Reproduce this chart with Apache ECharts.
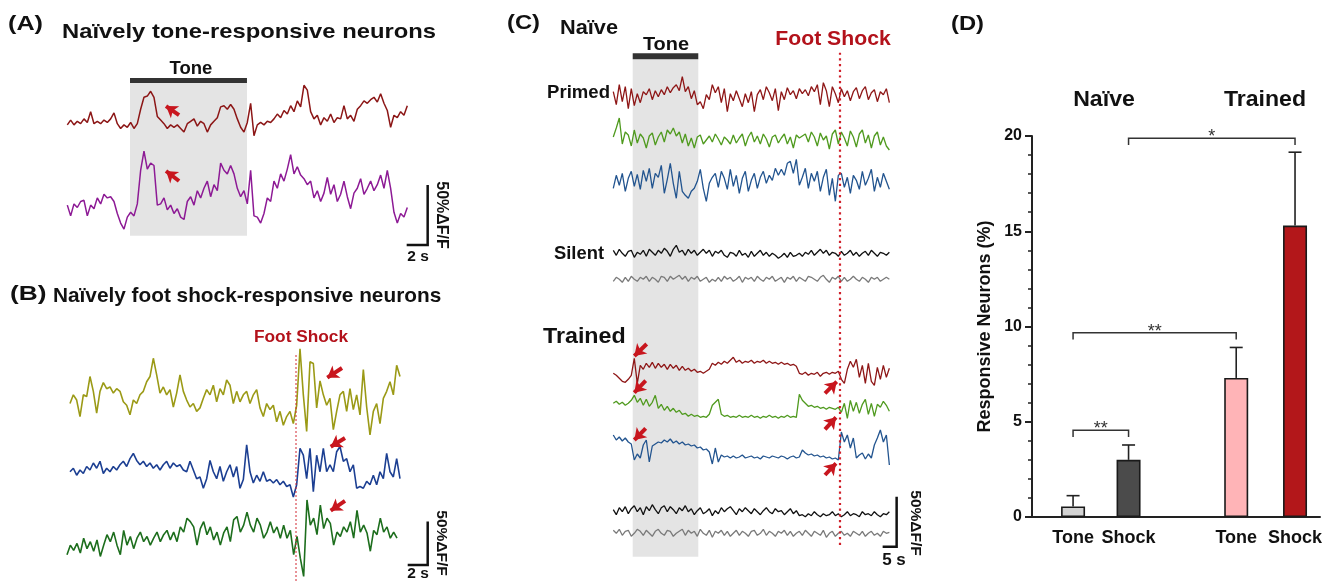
<!DOCTYPE html>
<html>
<head>
<meta charset="utf-8">
<script src="https://cdn.jsdelivr.net/npm/echarts@6/dist/echarts.min.js"></script>
<style>
  html, body { margin: 0; padding: 0; background: #fff; }
  #chart { width: 1334px; height: 581px; }
</style>
</head>
<body>
<div id="chart"></div>
<script>
// ---------- Panel A: naïvely tone-responsive neurons (%ΔF/F, one sample per ~0.32 s) ----------
const aRedTrace = [-1,3,-1,2,0,4,1,10,0,2,0,3,1,4,9,0,-4,-1,-3,1,-4,0,12,22,23,27,22,6,3,0,-4,-1,-3,-1,-4,-7,0,2,4,-2,2,0,-7,-1,2,5,14,15,12,16,12,4,-3,-7,1,17,-10,-1,1,-1,2,1,4,8,5,11,8,15,10,19,14,32,28,10,4,7,-1,5,2,8,1,5,4,15,4,7,2,12,15,19,17,20,22,18,25,17,11,-3,7,5,10,7,15];
const aPurpleTrace = [3,-6,4,1,6,7,-6,3,0,9,4,12,9,10,6,-4,-12,-17,-7,-3,-6,4,32,48,33,38,36,3,4,9,-1,3,-4,0,-7,-9,6,10,3,15,9,17,23,10,20,15,38,32,29,36,29,17,10,15,4,32,-6,-7,-12,-4,9,6,23,17,29,23,33,45,29,35,28,25,20,23,9,15,6,13,26,12,20,6,12,23,10,0,13,17,25,12,17,23,15,20,28,17,32,17,-3,-12,-4,-7,1];
const aTone = [6.0, 17.14];          // tone on / off (s)

// ---------- Panel B: naïvely foot shock-responsive neurons ----------
const bOliveTrace = [-6,4,-2,-21,4,2,25,8,-17,8,18,11,13,6,11,8,-4,-8,-19,-2,-6,4,8,19,25,46,27,6,13,4,10,-10,6,27,8,-2,-10,-6,-15,-11,0,10,4,15,-4,11,4,21,15,-6,8,-4,4,8,-6,4,10,-11,-21,-6,-13,-8,-27,-15,-31,-21,-15,-29,-8,57,4,-38,42,40,-11,20,4,-8,0,-36,-15,4,8,-15,11,-13,4,-19,33,-10,-42,-15,-6,-29,0,8,19,4,38,25];
const bBlueTrace = [-2,2,-6,0,-4,4,0,8,2,10,-4,2,-2,4,0,6,10,4,13,19,11,6,10,4,8,2,6,0,6,10,2,8,4,6,0,-2,10,0,-10,-8,-21,-10,11,-2,-10,4,-13,-2,6,-8,4,-21,-11,29,-2,-15,-6,-13,-2,-13,-11,-15,-11,-17,-13,-19,-17,-31,-17,25,17,-10,25,-25,17,-2,25,-2,6,-2,21,27,10,13,-2,6,-21,-19,-21,-13,-17,-6,-17,-2,-10,19,-2,-8,13,-10];
const bGreenTrace = [-15,-4,-10,-2,-13,4,-8,0,-11,2,-17,-4,8,0,11,-4,-15,13,-4,6,-8,4,11,0,6,-4,4,11,0,8,13,2,11,0,17,11,27,23,17,-4,15,23,8,17,2,11,-4,10,17,0,25,29,11,19,34,19,11,27,19,4,11,23,10,17,4,19,4,13,-15,6,-19,-40,48,19,27,8,42,15,27,21,-4,11,6,17,11,23,4,36,11,19,10,-11,13,8,27,11,17,4,11,4];
const bShock = 22.9;                 // foot shock (s)

// ---------- Panel C: naïve vs trained, primed and silent neurons ----------
const cNaiveRed = [5,-8,12,-5,10,-12,8,-9,3,-6,5,2,8,-3,6,0,7,2,10,4,9,12,6,20,5,10,-2,6,-8,-5,-12,2,-3,12,4,10,-6,8,-15,3,-4,6,-2,-10,3,-6,5,-15,2,7,-3,10,4,-4,8,-14,5,-3,9,2,6,-2,8,3,7,1,10,5,12,-8,14,6,-10,10,3,-6,8,0,6,-4,5,9,-2,6,10,-3,4,7,-5,5,2,8,-6];
const cNaiveGreen = [3,12,22,-4,8,5,-6,10,-3,6,2,-8,4,7,-5,3,8,-2,10,6,12,4,8,-3,6,-6,2,-8,3,5,-4,0,4,-2,6,1,-5,3,0,-4,5,-3,2,6,-6,3,8,-2,4,-4,6,1,-7,3,5,-3,2,6,-4,3,-8,5,2,4,6,-2,8,3,-6,7,0,4,-9,6,10,-4,8,2,-6,9,3,-7,6,10,-3,5,-8,4,8,-5,3,-6,-10];
const cNaiveBlue = [-5,8,-2,10,-8,5,12,-3,9,-6,13,2,15,-5,10,6,18,-10,4,20,0,-15,12,-8,-12,-15,-8,-5,2,14,-5,-18,0,6,10,-4,12,5,-6,14,-3,8,-10,5,12,-8,3,10,-5,6,12,0,8,3,15,8,14,8,20,22,10,24,-2,6,15,-5,10,2,12,-8,6,14,-12,5,-18,8,10,-4,6,-10,8,3,-6,12,-2,5,14,-8,6,-4,10,2,-6];
const cNaiveBlack = [3,-2,4,0,-3,2,3,-4,1,-1,3,-3,4,1,-2,3,0,5,2,-3,4,8,1,3,-2,4,0,3,-2,1,4,0,3,-3,2,0,3,-2,-4,1,0,-3,3,-2,0,-4,2,-3,0,3,-2,1,-3,0,-2,-5,-3,0,-4,1,-3,-2,0,-3,1,-1,3,-2,1,4,0,3,-2,1,0,-3,2,-2,0,3,-2,1,-3,0,2,-2,3,0,-3,1,0,-2,1];
const cNaiveGray = [-2,2,0,-3,2,-2,3,0,-2,2,0,3,-2,2,0,-3,3,2,-2,3,0,2,4,0,3,-2,2,0,3,-2,0,2,-3,0,-2,2,-2,3,0,2,-2,0,3,-3,2,0,2,-2,3,0,-2,2,0,3,-2,0,2,-3,2,0,3,-2,2,0,-2,3,2,0,-2,2,4,0,-3,2,0,3,-2,2,-2,0,3,0,-2,2,0,-3,2,0,2,-2,0,2,0];
const cTrainedRed = [0,-2,-5,-8,-9,-6,-2,15,-10,8,4,10,6,11,5,10,6,9,4,9,5,8,3,7,3,5,2,4,1,2,0,2,4,10,8,11,9,12,10,13,16,11,13,10,12,11,13,10,12,11,13,10,12,10,11,9,11,9,10,8,9,7,0,-1,1,-2,0,-1,1,-3,0,1,-1,1,0,2,-6,-10,4,12,6,14,-4,8,-10,10,-8,-12,6,-6,8,-4,5];
const cTrainedGreen = [5,7,4,6,3,5,8,13,6,10,3,9,2,6,13,0,4,-2,2,-3,0,-4,-2,-6,-5,-8,-6,-8,-7,-9,-8,-9,-6,3,6,9,-6,-8,-7,-9,-8,-9,-7,-9,-8,-9,-7,-9,-8,-10,-8,-9,-7,-9,-8,-10,-8,-9,-7,-9,-8,-9,14,8,5,2,3,1,2,0,1,-1,1,0,-1,1,-4,5,-10,8,-3,6,-5,4,9,-6,5,-8,4,1,7,3,-3];
const cTrainedBlue = [15,10,13,9,12,8,6,-10,-4,-8,5,10,-12,4,6,8,7,10,8,11,7,9,6,8,5,6,4,5,2,3,0,1,-2,-14,2,-12,-5,-7,-6,-8,-6,-8,-7,-5,-8,-7,-6,-8,-7,-9,-6,-7,-8,-6,-7,-8,-6,-7,-9,-7,-6,-8,-7,0,-3,-5,-4,-6,-5,-7,-6,-8,-7,-9,-8,-10,18,8,15,2,12,-8,-5,-3,-9,-4,-8,5,12,20,8,15,-15];
const cTrainedBlack = [2,-3,4,0,5,-2,3,6,0,4,-3,5,1,7,2,-2,4,6,0,5,2,-2,4,1,6,0,3,-3,1,4,-2,0,3,-4,1,-2,4,0,3,5,1,-3,3,0,4,1,-2,3,0,-3,1,4,0,-2,3,0,1,-3,0,3,-2,1,-4,-3,-5,-2,-4,0,-3,-5,-2,-4,-3,0,-4,-2,-5,-3,0,-4,-2,-3,-5,0,-3,-2,-4,0,-3,-5,-2,-3,0];
const cTrainedGray = [3,0,4,-2,2,3,-3,0,4,2,-2,3,0,-3,2,4,0,-2,3,2,-3,0,2,4,-2,3,0,2,-3,4,0,-2,3,-4,2,0,3,-2,2,-3,0,3,-2,2,0,-3,2,3,-2,0,4,-2,2,0,-3,2,0,3,-2,2,-3,0,2,-2,3,0,-3,2,0,-2,3,-4,0,2,-3,0,2,-2,0,-3,2,0,-2,2,-3,0,2,-2,0,-3,2,0,1];
const cTone = [7.04, 30.46];         // tone on / off (s)
const cShock = 81.07;                // foot shock (s)

// ---------- Panel D: responsive neurons (%) ----------
const dCategories = ['Tone', 'Shock', 'Tone', 'Shock'];
const dGroups = ['Naïve', 'Trained'];
const dMeans = [0.55, 3.0, 7.3, 15.3];
const dSem = [0.57, 0.78, 1.6, 3.85];
const dComparisons = [[0, 1, '**'], [0, 2, '**'], [1, 3, '*']];

// ---------- layout ----------
const FONT = '"Liberation Sans", Arial, Helvetica, sans-serif';
const tracePanels = [
  { grid: { left: 67, top: 60, width: 375, height: 200 }, pxPerSec: 10.5, pxPerPct: 1.2, lineWidth: 1.5 },
  { grid: { left: 67, top: 330, width: 375, height: 251 }, pxPerSec: 10, pxPerPct: 0.87, lineWidth: 1.6 },
  { grid: { left: 613, top: 30, width: 300, height: 530 }, pxPerSec: 2.8, pxPerPct: 1.0, lineWidth: 1.3 }
];
const barGrid = { left: 1032, top: 136, width: 288, height: 381 };
const dSlots = [1, 2, 3.94, 5];
const dColors = ['#d3d3d3', '#4b4b4b', '#ffb4b7', '#b3171a'];

// lanes: panel, data, baseline (%), start (s), duration (s), colour
const traces = [
  [0, aRedTrace, 113.6, 0.03, 32.38, '#8c1616'],
  [0, aPurpleTrace, 42.75, 0.03, 32.38, '#8d1a95'],
  [1, bOliveTrace, 210, 0.3, 33.0, '#9b9a16'],
  [1, bBlueTrace, 127.6, 0.3, 33.0, '#1c3f92'],
  [1, bGreenTrace, 45.2, 0.0, 33.0, '#1d6e1d'],
  [2, cNaiveRed, 463.3, 0.1, 98.6, '#8e1616'],
  [2, cNaiveGreen, 420, 0.1, 98.6, '#4f9a1e'],
  [2, cNaiveBlue, 376.7, 0.1, 98.6, '#22548f'],
  [2, cNaiveBlack, 306.7, 0.1, 98.6, '#111111'],
  [2, cNaiveGray, 280.7, 0.1, 98.6, '#7a7a7a'],
  [2, cTrainedRed, 186.7, 0.1, 98.6, '#8e1616'],
  [2, cTrainedGreen, 151.7, 0.1, 98.6, '#4f9a1e'],
  [2, cTrainedBlue, 110, 0.1, 98.6, '#22548f'],
  [2, cTrainedBlack, 48.3, 0.1, 98.6, '#111111'],
  [2, cTrainedGray, 26.7, 0.1, 98.6, '#7a7a7a']
];

const grids = tracePanels.map(p => Object.assign({}, p.grid)).concat([barGrid]);
const xAxes = tracePanels.map((p, i) => ({
  gridIndex: i, type: 'value', min: 0, max: p.grid.width / p.pxPerSec, show: false
}));
const yAxes = tracePanels.map((p, i) => ({
  gridIndex: i, type: 'value', min: 0, max: p.grid.height / p.pxPerPct, show: false
}));

xAxes.push({
  gridIndex: 3, type: 'value', min: 0.26, max: 5.45,
  axisLine: { show: true, onZero: false, lineStyle: { color: '#222', width: 2 } },
  axisTick: { show: false },
  splitLine: { show: false },
  axisLabel: {
    customValues: dSlots,
    formatter: v => { const i = dSlots.findIndex(s => Math.abs(s - v) < 1e-6); return i >= 0 ? dCategories[i] : ''; },
    fontFamily: FONT, fontWeight: 'bold', fontSize: 18, color: '#111', margin: 12
  }
});
yAxes.push({
  gridIndex: 3, type: 'value', min: 0, max: 20, interval: 5,
  name: 'Responsive Neurons (%)', nameLocation: 'middle', nameGap: 38,
  nameTextStyle: { fontFamily: FONT, fontWeight: 'bold', fontSize: 18, color: '#111' },
  axisLine: { show: true, lineStyle: { color: '#222', width: 2 } },
  axisTick: { show: true, length: 7, lineStyle: { color: '#222', width: 2 } },
  minorTick: { show: true, splitNumber: 5, length: 4, lineStyle: { color: '#222', width: 1.5 } },
  splitLine: { show: false },
  axisLabel: { fontFamily: FONT, fontWeight: 'bold', fontSize: 16, color: '#111', margin: 10 }
});

const series = [];

// tone shading
function shade(p, t, y0, y1) {
  return {
    type: 'custom', xAxisIndex: p, yAxisIndex: p, z: 1, silent: true,
    data: [[t[0], y0, t[1], y1]],
    renderItem: (params, api) => {
      const a = api.coord([api.value(0), api.value(1)]);
      const b = api.coord([api.value(2), api.value(3)]);
      return { type: 'rect', shape: { x: a[0], y: b[1], width: b[0] - a[0], height: a[1] - b[1] }, style: { fill: '#e4e4e4' } };
    }
  };
}
series.push(shade(0, aTone, 20.25, 147.5));
series.push(shade(2, cTone, 3.3, 500.7));

// fluorescence traces
traces.forEach(([p, vals, lane, t0, dur, color]) => {
  const dt = dur / (vals.length - 1);
  series.push({
    type: 'line', xAxisIndex: p, yAxisIndex: p, z: 3, silent: true,
    symbol: 'none', showSymbol: false,
    lineStyle: { color: color, width: tracePanels[p].lineWidth },
    data: vals.map((v, i) => [t0 + i * dt, lane + v])
  });
});

// polylines in data space (tone bars, shock markers, scale bars)
function paths(p, list, style, extra) {
  return Object.assign({
    type: 'lines', coordinateSystem: 'cartesian2d', xAxisIndex: p, yAxisIndex: p,
    polyline: true, silent: true, z: 5, lineStyle: style,
    data: list.map(c => ({ coords: c }))
  }, extra || {});
}
series.push(paths(0, [[[aTone[0], 149.6], [aTone[1], 149.6]]], { color: '#333', width: 5, opacity: 1 }));
series.push(paths(2, [[[cTone[0], 503.7], [cTone[1], 503.7]]], { color: '#333', width: 6, opacity: 1 }));
series.push(paths(1, [[[bShock, 0], [bShock, 261.7]]], { color: '#d22630', width: 1, type: [2, 2], opacity: 1 }));
series.push(paths(2, [[[cShock, 15], [cShock, 507.3]]], { color: '#d0202a', width: 2.2, type: [2.2, 3.5], opacity: 1 }));
series.push(paths(0, [[[34.35, 62.5], [34.35, 12.5], [32.35, 12.5]]], { color: '#111', width: 2.5, opacity: 1 }));
series.push(paths(1, [[[36.07, 68.4], [36.07, 18.4], [34.07, 18.4]]], { color: '#111', width: 2.5, opacity: 1 }));
series.push(paths(2, [[[101.3, 63.3], [101.3, 13.3], [96.3, 13.3]]], { color: '#111', width: 2.5, opacity: 1 }));

// response arrows (tail -> head)
const arrowStyle = { color: '#c8161e', width: 4, opacity: 1 };
const arrowOpts = { polyline: false, symbol: ['none', 'arrow'], symbolSize: 11, z: 6 };
series.push(paths(0, [
  [[10.67, 120.8], [9.43, 128.3]],
  [[10.67, 65.8], [9.43, 74.2]]
], arrowStyle, arrowOpts));
series.push(paths(1, [
  [[27.5, 244.8], [26.03, 233.7]],
  [[27.8, 164.4], [26.37, 154.4]],
  [[27.8, 92], [26.37, 80.8]]
], arrowStyle, arrowOpts));
series.push(paths(2, [
  [[12.04, 216], [7.61, 204]],
  [[11.68, 179.3], [7.61, 167.3]],
  [[11.68, 131.7], [7.61, 120]],
  [[75.71, 166.7], [79.89, 178.3]],
  [[75.71, 130.7], [79.64, 142.7]],
  [[75.71, 85], [79.64, 96.7]]
], arrowStyle, arrowOpts));

// Panel D bars
series.push({
  type: 'bar', xAxisIndex: 3, yAxisIndex: 3, barWidth: 24, z: 2, silent: true,
  itemStyle: { borderColor: '#1a1a1a', borderWidth: 1.6 },
  data: dSlots.map((s, i) => ({ value: [s, dMeans[i]], itemStyle: { color: dColors[i] } }))
});
// SEM (upper only)
series.push({
  type: 'custom', xAxisIndex: 3, yAxisIndex: 3, z: 3, silent: true,
  data: dSlots.map((s, i) => [s, dMeans[i], dMeans[i] + dSem[i]]),
  renderItem: (params, api) => {
    const b = api.coord([api.value(0), api.value(1)]);
    const t = api.coord([api.value(0), api.value(2)]);
    const st = { stroke: '#222', lineWidth: 1.6 };
    return { type: 'group', children: [
      { type: 'line', shape: { x1: b[0], y1: b[1], x2: t[0], y2: t[1] }, style: st },
      { type: 'line', shape: { x1: t[0] - 6.5, y1: t[1], x2: t[0] + 6.5, y2: t[1] }, style: st }
    ] };
  }
});
// significance brackets
const bracketLevels = [4.55, 9.67, 19.88];
const bracketDrop = 0.35;
series.push({
  type: 'custom', xAxisIndex: 3, yAxisIndex: 3, z: 4, silent: true,
  data: dComparisons.map((c, i) => [dSlots[c[0]], dSlots[c[1]], bracketLevels[i], bracketLevels[i] - bracketDrop]),
  renderItem: (params, api) => {
    const x1 = api.value(0), x2 = api.value(1), y = api.value(2), yd = api.value(3);
    const p1 = api.coord([x1, yd]), p2 = api.coord([x1, y]), p3 = api.coord([x2, y]), p4 = api.coord([x2, yd]);
    return { type: 'group', children: [
      { type: 'polyline', shape: { points: [p1, p2, p3, p4] }, style: { stroke: '#333', lineWidth: 1.5, fill: null } },
      { type: 'text', x: (p2[0] + p3[0]) / 2, y: p2[1] - 1,
        style: { text: dComparisons[params.dataIndex][2], fill: '#333', font: '18px ' + FONT, align: 'center', verticalAlign: 'middle' } }
    ] };
  }
});

// text labels
function label(text, x, y, size, o) {
  o = o || {};
  return {
    type: 'text', x: x, y: y, z: 100, silent: true,
    rotation: o.rot || 0, scaleX: o.sx || 1, scaleY: 1,
    style: {
      text: text, x: 0, y: 0, fill: o.color || '#111',
      font: 'bold ' + size + 'px ' + FONT,
      align: o.align || 'left', verticalAlign: 'middle'
    }
  };
}
const RED = '#b3121b';
const down = -Math.PI / 2;
const graphics = [
  label('(A)', 8, 24, 21, { sx: 1.2 }),
  label('Naïvely tone-responsive neurons', 62, 32, 20.5, { sx: 1.16 }),
  label('Tone', 191, 68.5, 18.5, { align: 'center' }),
  label('50%ΔF/F', 441, 215, 16, { align: 'center', rot: down }),
  label('2 s', 418, 257, 15.5, { align: 'center' }),

  label('(B)', 10, 294.5, 21, { sx: 1.25 }),
  label('Naïvely foot shock-responsive neurons', 53, 296, 21, { sx: 0.99 }),
  label('Foot Shock', 301, 338, 16, { align: 'center', sx: 1.08, color: RED }),
  label('50%ΔF/F', 441, 543, 15.5, { align: 'center', rot: down }),
  label('2 s', 418, 574, 15.5, { align: 'center' }),

  label('(C)', 507, 23.5, 21, { sx: 1.13 }),
  label(dGroups[0], 560, 28.3, 21, { sx: 1.035 }),
  label('Tone', 666, 45, 19, { align: 'center', sx: 1.05 }),
  label('Foot Shock', 833, 39.5, 20, { align: 'center', sx: 1.06, color: RED }),
  label('Primed', 610, 93, 17.5, { align: 'right', sx: 1.06 }),
  label('Silent', 604, 254.5, 17.5, { align: 'right', sx: 1.05 }),
  label(dGroups[1], 543, 336.5, 22, { sx: 1.057 }),
  label('50%ΔF/F', 915, 523, 15.5, { align: 'center', rot: down }),
  label('5 s', 894, 560, 17, { align: 'center' }),

  label('(D)', 951, 24, 21, { sx: 1.13 }),
  label(dGroups[0], 1104, 100, 22, { align: 'center', sx: 1.05 }),
  label(dGroups[1], 1265, 100, 22, { align: 'center', sx: 1.05 })
];

const chart = echarts.init(document.getElementById('chart'), null, { renderer: 'canvas' });
chart.setOption({
  backgroundColor: '#ffffff',
  animation: false,
  grid: grids,
  xAxis: xAxes,
  yAxis: yAxes,
  series: series,
  graphic: graphics
});
</script>
</body>
</html>
